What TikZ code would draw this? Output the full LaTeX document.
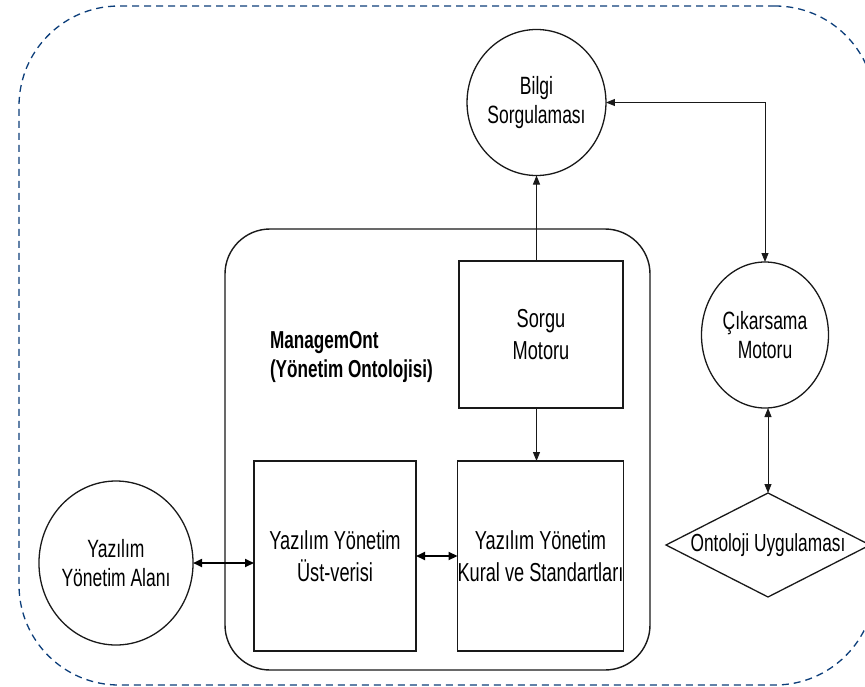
\documentclass[tikz,border=0pt]{standalone}
\usepackage{fontspec}
\setmainfont{Liberation Sans}[FakeStretch=0.70]
\usetikzlibrary{shapes.geometric,arrows.meta}
\definecolor{frameblue}{RGB}{12,62,122}
\tikzset{
  every node/.style={inner sep=0pt, outer sep=0pt, align=center, text=black},
  unit/.style={draw=black!90, line width=1.3pt, rectangle,
    font=\fontsize{26}{32}\selectfont},
  bubble/.style={draw=black!90, line width=1.3pt, ellipse,
    font=\fontsize{25}{29}\selectfont},
  choice/.style={draw=black!90, line width=1.3pt, diamond, aspect=2,
    font=\fontsize{24.7}{28}\selectfont},
  link/.style={draw=black!90, line width=0.9pt,
    -{Triangle[length=9pt,width=7pt]}},
  duplex/.style={draw=black!90, line width=0.9pt,
    {Triangle[length=9pt,width=7pt]}-{Triangle[length=9pt,width=7pt]}},
  thickduplex/.style={draw=black, line width=1.8pt,
    {Triangle[length=9pt,width=8pt]}-{Triangle[length=9pt,width=8pt]}},
}
\begin{document}
\begin{tikzpicture}[x=1pt,y=-1pt]
  \useasboundingbox (0,0) rectangle (865,686);

  % dashed outer frame
  \node[draw=frameblue, line width=1.3pt, dash pattern=on 7pt off 5pt,
        rounded corners=100pt, minimum width=856pt, minimum height=679pt]
        (frame) at (447,345.5) {};

  % ontology container
  \node[draw=black!90, line width=1.4pt, rounded corners=45pt,
        minimum width=425pt, minimum height=441pt] (mgmt) at (437.5,449.5) {};
  \node[anchor=west, align=left, font=\bfseries\fontsize{24.5}{28.5}\selectfont]
        (title) at (270,357) {ManagemOnt\\(Yönetim Ontolojisi)};

  % components
  \node[unit, minimum width=164pt, minimum height=147pt] (sorgu) at (541,334.5) {Sorgu\\Motoru};
  \node[unit, minimum width=162pt, minimum height=190pt] (ust) at (335,556) {Yazılım Yönetim\\Üst-verisi};
  \node[unit, minimum width=163pt, minimum height=190pt] (kural) at (540.5,556) {Yazılım Yönetim\\Kural ve Standartları};

  \node[bubble, minimum width=127pt, minimum height=146pt] (bilgi) at (536.5,102.5) {Bilgi\\Sorgulaması};
  \node[bubble, minimum width=127pt, minimum height=146pt] (cik) at (765,335) {Çıkarsama\\Motoru};
  \node[bubble, minimum width=132pt, minimum height=164pt] (alan) at (116,563) {Yazılım\\Yönetim Alanı};
  \node[choice, minimum width=204pt, minimum height=104pt] (ont) at (768,545) {Ontoloji Uygulaması};

  % connectors
  \draw[link] (sorgu.north -| bilgi.south) -- (bilgi.south);
  \draw[link] (sorgu.south -| bilgi.south) -- (kural.north -| bilgi.south);
  \draw[duplex] (cik.north) |- (bilgi.east);
  \draw[duplex] (cik.south -| ont.north) -- (ont.north);
  \draw[thickduplex] (alan.east) -- (alan.east -| ust.west);
  \draw[thickduplex] (ust.east) -- (kural.west);
\end{tikzpicture}
\end{document}
